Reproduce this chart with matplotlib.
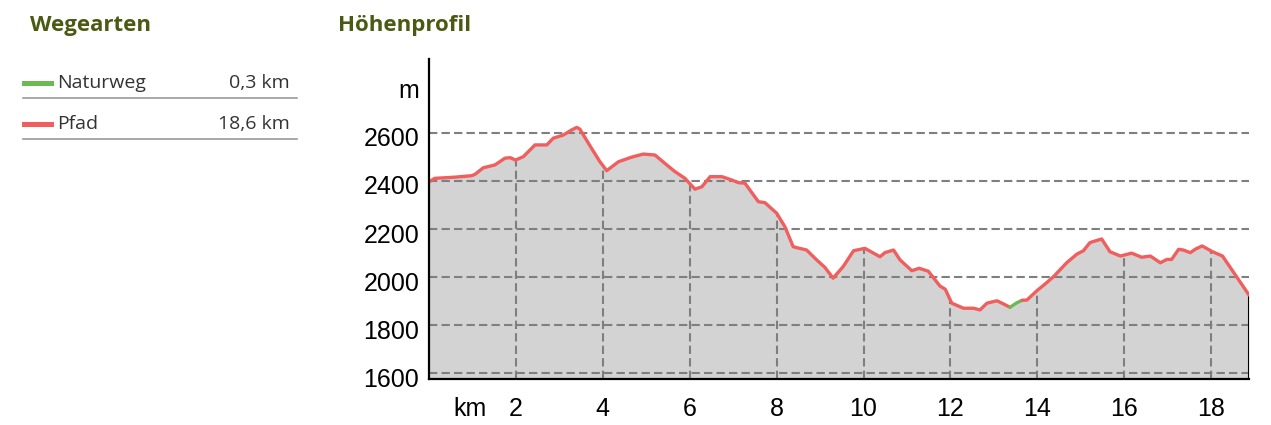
import numpy as np
import matplotlib
matplotlib.use("Agg")
import matplotlib.pyplot as plt
from matplotlib.lines import Line2D
from matplotlib.transforms import ScaledTranslation

# elevation profile (km, m)
dist_km = [0.00, 0.13, 0.60, 0.98, 1.06, 1.25, 1.52, 1.75, 1.87, 1.99, 2.17, 2.44, 2.71,
           2.86, 3.09, 3.28, 3.40, 3.47, 3.74, 3.93, 4.09, 4.36, 4.66, 4.93, 5.20, 5.47,
           5.66, 5.89, 6.12, 6.28, 6.47, 6.74, 6.97, 7.12, 7.27, 7.58, 7.73, 8.00, 8.19,
           8.38, 8.46, 8.69, 8.92, 9.11, 9.30, 9.53, 9.77, 10.03, 10.38, 10.49, 10.69,
           10.84, 11.11, 11.28, 11.49, 11.76, 11.88, 12.03, 12.30, 12.53, 12.68, 12.84,
           13.07, 13.22, 13.37, 13.52, 13.65, 13.76, 13.99, 14.18, 14.37, 14.68, 14.91,
           15.06, 15.21, 15.48, 15.67, 15.91, 16.17, 16.40, 16.60, 16.83, 16.98, 17.09,
           17.25, 17.36, 17.52, 17.63, 17.79, 18.03, 18.26, 18.87]
elev_m = [2395, 2410, 2415, 2421, 2427, 2454, 2466, 2494, 2496, 2486, 2500, 2549, 2549,
          2577, 2590, 2611, 2622, 2615, 2535, 2480, 2442, 2479, 2498, 2511, 2507, 2466,
          2438, 2410, 2365, 2375, 2417, 2417, 2403, 2392, 2390, 2313, 2309, 2265, 2209,
          2126, 2122, 2112, 2071, 2040, 1995, 2043, 2109, 2119, 2084, 2101, 2112,
          2071, 2026, 2036, 2024, 1962, 1949, 1891, 1870, 1870, 1863, 1891,
          1901, 1888, 1874, 1892, 1903, 1904, 1943, 1971, 2001, 2060, 2095,
          2109, 2143, 2158, 2105, 2087, 2099, 2082, 2087, 2059, 2073, 2073,
          2115, 2112, 2101, 2115, 2129, 2105, 2087, 1925]

# path types: name, length, colour, stretch on the profile
way_names = ["Naturweg", "Pfad"]
way_lengths = ["0,3 km", "18,6 km"]
way_colors = ["#6cbb52", "#f15e5e"]
natur_start, natur_end = 13.37, 13.65

y_ticks = [1600, 1800, 2000, 2200, 2400, 2600, 2800]
y_labels = ["1600", "1800", "2000", "2200", "2400", "2600", "m"]
x_ticks = [0.95, 2, 4, 6, 8, 10, 12, 14, 16, 18]
x_labels = ["km", "2", "4", "6", "8", "10", "12", "14", "16", "18"]
grid_y = [1600, 1800, 2000, 2200, 2400, 2600]
grid_x = [2, 4, 6, 8, 10, 12, 14, 16, 18]

W, H = 1271, 425
fig = plt.figure(figsize=(W / 100, H / 100), dpi=100)

title_col = "#4b5a12"
fig.text(30 / W, 1 - 25 / H, "Wegearten", fontsize=16, fontweight="bold",
         family="Open Sans", color=title_col, va="center")
fig.text(338 / W, 1 - 25 / H, "Höhenprofil", fontsize=16, fontweight="bold",
         family="Open Sans", color=title_col, va="center")

# legend table on the left
for i, (name, length, col) in enumerate(zip(way_names, way_lengths, way_colors)):
    yc = 83 + i * 41
    fig.add_artist(Line2D([24 / W, 51 / W], [1 - yc / H, 1 - yc / H], color=col, lw=3.6,
                          transform=fig.transFigure))
    fig.text(57 / W, 1 - yc / H, name, fontsize=14, family="Open Sans", color="#333333",
             va="center")
    fig.text(290 / W, 1 - yc / H, length, fontsize=14, family="Open Sans", color="#333333",
             va="center", ha="right")
    ys = yc + 15
    fig.add_artist(Line2D([23 / W, 297 / W], [1 - ys / H, 1 - ys / H], color="#9a9a9a",
                          lw=1.2, transform=fig.transFigure))

ax = fig.add_axes([429 / W, 1 - 378.7 / H, 820 / W, (378.7 - 59.3) / H])
d = np.array(dist_km)
e = np.array(elev_m)
ybot, ytop = 1577, 2905
ax.set_xlim(0, d[-1])
ax.set_ylim(ybot, ytop)

ax.fill_between(d, ybot, e, color="#d3d3d3", lw=0, zorder=1)
dash = (0, (4, 2))
for gy in grid_y:
    ax.axhline(gy, color="#7f7f7f", lw=1.5, ls=dash, zorder=2)
ax.vlines(grid_x, ybot, np.interp(grid_x, d, e), color="#7f7f7f", lw=1.5,
          linestyles=[dash], zorder=2)
ax.vlines([d[-1]], ybot, e[-1], color="black", lw=1.5, zorder=3)

m1 = d <= natur_start
m2 = (d >= natur_start) & (d <= natur_end)
m3 = d >= natur_end
ax.plot(d[m1], e[m1], color=way_colors[1], lw=2.4, zorder=4, solid_capstyle="round")
ax.plot(d[m2], e[m2], color=way_colors[0], lw=2.4, zorder=4, solid_capstyle="round")
ax.plot(d[m3], e[m3], color=way_colors[1], lw=2.4, zorder=4, solid_capstyle="round")

for s in ["top", "right"]:
    ax.spines[s].set_visible(False)
for s in ["left", "bottom"]:
    ax.spines[s].set_linewidth(1.6)
    ax.spines[s].set_zorder(5)

ax.set_yticks(y_ticks, y_labels)
ax.set_xticks(x_ticks, x_labels)
ax.tick_params(length=0, labelsize=18, labelfontfamily="Liberation Sans")
ax.tick_params(axis="y", pad=7)
ax.tick_params(axis="x", pad=13)
off = ScaledTranslation(0, -3 / 72, fig.dpi_scale_trans)
for lab in ax.get_yticklabels():
    lab.set_transform(lab.get_transform() + off)

fig.savefig("out.png", dpi=100)
